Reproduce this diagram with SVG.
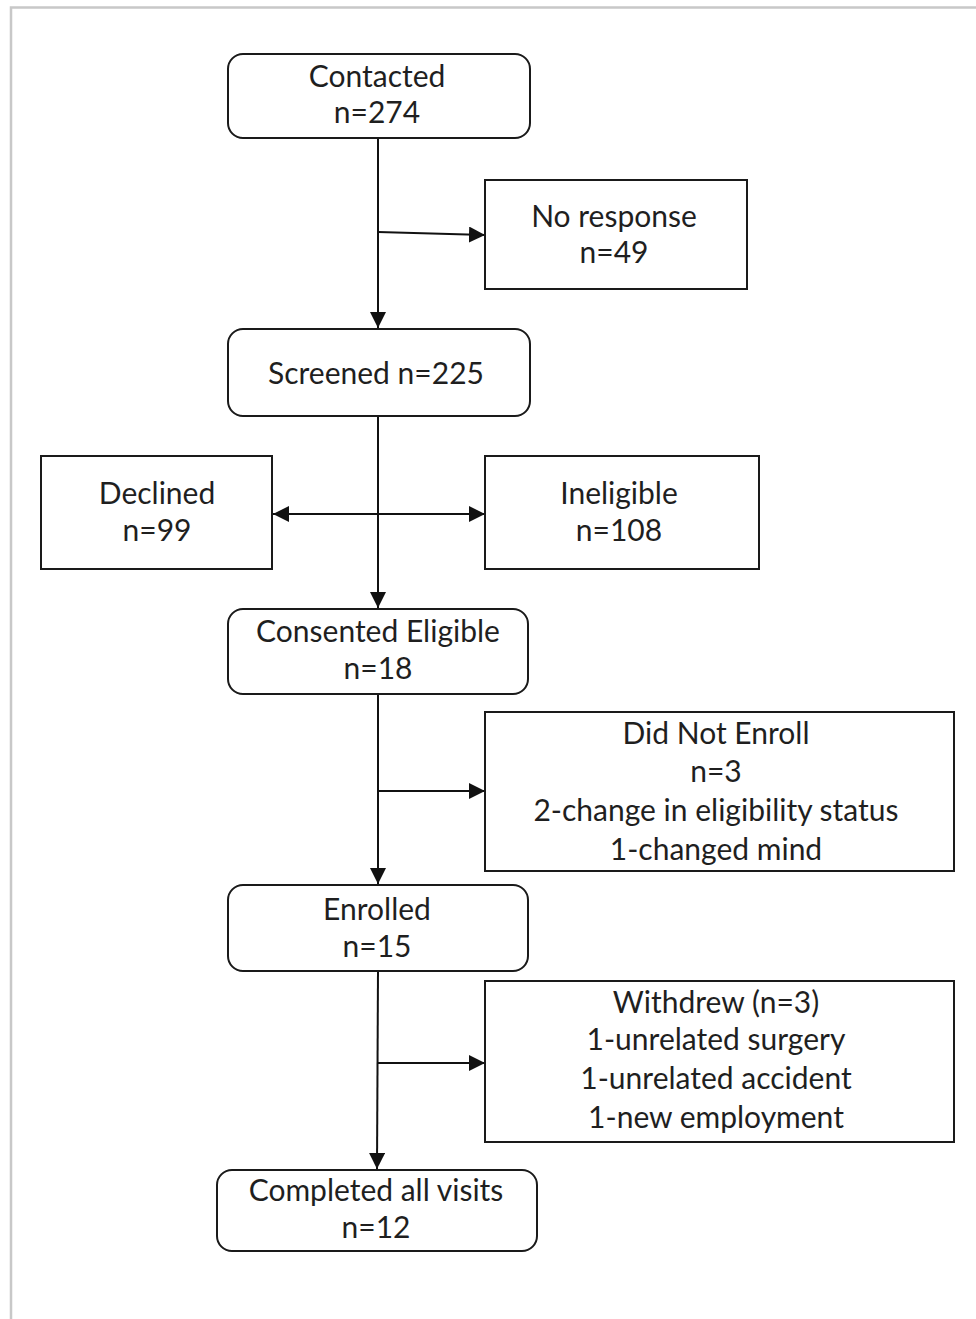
<svg xmlns="http://www.w3.org/2000/svg" width="976" height="1319" viewBox="0 0 976 1319">
<style>
  .frame{fill:none;stroke:#c8c8c8;stroke-width:2.5}
  .box{fill:#fff;stroke:#1a1a1a;stroke-width:2}
  .conn{fill:none;stroke:#111;stroke-width:2}
  text{font-family:Lato,"Open Sans",sans-serif;font-size:30px;fill:#1f1f1f;text-anchor:middle}
</style>
<defs>
  <marker id="ah" markerUnits="userSpaceOnUse" markerWidth="16" markerHeight="16" viewBox="0 0 16 16" refX="16" refY="8" orient="auto-start-reverse">
    <path d="M0,0 L16,8 L0,16 z" fill="#111"/>
  </marker>
</defs>
<rect width="976" height="1319" fill="#fff"/>
<path class="frame" d="M11,1319 V7.5 H976"/>

<g id="connectors">
  <path class="conn" d="M378,138 V328" marker-end="url(#ah)"/>
  <path class="conn" d="M378,232 L485,235" marker-end="url(#ah)"/>
  <path class="conn" d="M378,416 V608" marker-end="url(#ah)"/>
  <path class="conn" d="M273,514 H485" marker-start="url(#ah)" marker-end="url(#ah)"/>
  <path class="conn" d="M378,694 V884" marker-end="url(#ah)"/>
  <path class="conn" d="M378,791 H485" marker-end="url(#ah)"/>
  <path class="conn" d="M378,971 L377,1169" marker-end="url(#ah)"/>
  <path class="conn" d="M377,1063 H485" marker-end="url(#ah)"/>
</g>

<g id="contacted">
  <rect class="box" x="228" y="54" width="302" height="84" rx="15"/>
  <text x="377" y="87">Contacted</text>
  <text x="377" y="123">n=274</text>
</g>
<g id="no-response">
  <rect class="box" x="485" y="180" width="262" height="109"/>
  <text x="614" y="227">No response</text>
  <text x="614" y="263">n=49</text>
</g>
<g id="screened">
  <rect class="box" x="228" y="329" width="302" height="87" rx="15"/>
  <text x="376" y="384">Screened n=225</text>
</g>
<g id="declined">
  <rect class="box" x="41" y="456" width="231" height="113"/>
  <text x="157" y="504">Declined</text>
  <text x="157" y="541">n=99</text>
</g>
<g id="ineligible">
  <rect class="box" x="485" y="456" width="274" height="113"/>
  <text x="619" y="504">Ineligible</text>
  <text x="619" y="541">n=108</text>
</g>
<g id="consented">
  <rect class="box" x="228" y="609" width="300" height="85" rx="15"/>
  <text x="378" y="642">Consented Eligible</text>
  <text x="378" y="679">n=18</text>
</g>
<g id="did-not-enroll">
  <rect class="box" x="485" y="712" width="469" height="159"/>
  <text x="716" y="744">Did Not Enroll</text>
  <text x="716" y="782">n=3</text>
  <text x="716" y="821">2-change in eligibility status</text>
  <text x="716" y="860">1-changed mind</text>
</g>
<g id="enrolled">
  <rect class="box" x="228" y="885" width="300" height="86" rx="15"/>
  <text x="377" y="920">Enrolled</text>
  <text x="377" y="957">n=15</text>
</g>
<g id="withdrew">
  <rect class="box" x="485" y="981" width="469" height="161"/>
  <text x="716" y="1013">Withdrew (n=3)</text>
  <text x="716" y="1050">1-unrelated surgery</text>
  <text x="716" y="1089">1-unrelated accident</text>
  <text x="716" y="1128">1-new employment</text>
</g>
<g id="completed">
  <rect class="box" x="217" y="1170" width="320" height="81" rx="15"/>
  <text x="376" y="1201">Completed all visits</text>
  <text x="376" y="1238">n=12</text>
</g>
</svg>
